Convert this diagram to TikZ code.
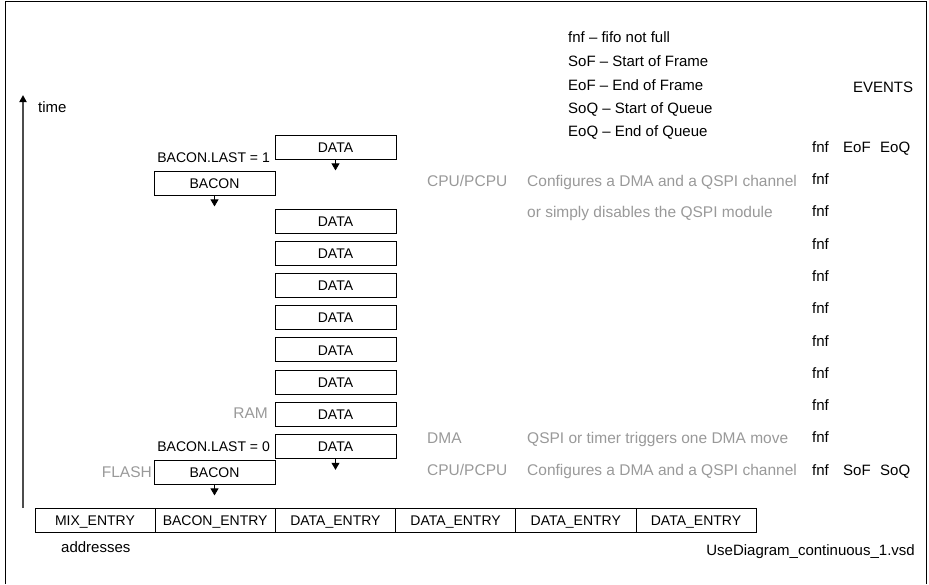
\documentclass[tikz,border=0pt]{standalone}
\usepackage{fontspec}
\setmainfont{Liberation Sans}
\usetikzlibrary{arrows.meta,positioning}

\begin{document}
\begin{tikzpicture}[x=1pt,y=-1pt,
  txt/.style={font=\fontsize{15}{17}\selectfont,inner sep=0pt,
    text height=10.5pt,text depth=0pt},
  small/.style={txt,font=\fontsize{14}{16}\selectfont},
  note/.style={txt,font=\fontsize{15.5}{17}\selectfont,text=black!40},
  box/.style={small,draw,line width=0.8pt,minimum width=121pt,
    minimum height=24pt},
  cell/.style={small,draw,line width=0.8pt,minimum width=120.2pt,
    minimum height=24pt},
  move/.style={line width=0.8pt,-{Triangle[length=7pt,width=8pt]}},
  timeax/.style={draw=black!70,line width=1.8pt,
    -{Triangle[length=7pt,width=7pt,color=black]}}
]
  \useasboundingbox (0,0) rectangle (929,584);
  \draw[line width=1pt] (5,584) -- (5,1) -- (926,1) -- (926,584);

  % time axis
  \coordinate (tbase) at (23,508);
  \coordinate (ttop) at (23,95);
  \draw[timeax] (tbase) -- (ttop);
  \node[txt,anchor=west] (time) at (38,107) {time};

  % legend
  \node[txt,anchor=west] (lfnf) at (568,37) {fnf – fifo not full};
  \node[txt,anchor=west] (lsof) at (568,61) {SoF – Start of Frame};
  \node[txt,anchor=west] (leof) at (568,85) {EoF – End of Frame};
  \node[txt,anchor=west] (lsoq) at (568,108) {SoQ – Start of Queue};
  \node[txt,anchor=west] (leoq) at (568,131) {EoQ – End of Queue};
  \node[txt] (events) at (883,87) {EVENTS};

  % queue
  \node[box] (datatop) at (335.5,147) {DATA};
  \node[box] (bacontop) at (214.5,183) {BACON};
  \foreach \i in {0,...,7}
    \node[box] (data\i) at (335.5,{221+32.2*\i}) {DATA};
  \node[box] (baconbot) at (214.5,472) {BACON};

  \coordinate[below=11pt of datatop] (datatoptip);
  \coordinate[below=11pt of bacontop] (bacontoptip);
  \coordinate[below=11pt of data7] (data7tip);
  \coordinate[below=11pt of baconbot] (baconbottip);
  \draw[move] (datatop) -- (datatoptip);
  \draw[move] (bacontop) -- (bacontoptip);
  \draw[move] (data7) -- (data7tip);
  \draw[move] (baconbot) -- (baconbottip);

  \node[small,anchor=east] (last1) at (270,157) {BACON.LAST = 1};
  \node[small,anchor=east] (last0) at (270,446) {BACON.LAST = 0};
  \node[note,anchor=east] (ram) at (268,413) {RAM};
  \node[note,anchor=east] (flash) at (152,472) {FLASH};

  % who does what
  \node[note,anchor=west] (cpu1) at (427,181) {CPU/PCPU};
  \node[note,anchor=west] (cfg1) at (527,181) {Configures a DMA and a QSPI channel};
  \node[note,anchor=west] (dis) at (527,212) {or simply disables the QSPI module};
  \node[note,anchor=west] (dma) at (427,438) {DMA};
  \node[note,anchor=west] (trig) at (527,438) {QSPI or timer triggers one DMA move};
  \node[note,anchor=west] (cpu0) at (427,470) {CPU/PCPU};
  \node[note,anchor=west] (cfg0) at (527,470) {Configures a DMA and a QSPI channel};

  % events
  \foreach \i in {0,...,10}
    \node[txt,anchor=west] (fnf\i) at (812,{147+32.3*\i}) {fnf};
  \node[txt,anchor=west] (eof) at (843,147) {EoF};
  \node[txt,anchor=west] (eoq) at (880,147) {EoQ};
  \node[txt,anchor=west] (sof) at (843,470) {SoF};
  \node[txt,anchor=west] (soq) at (880,470) {SoQ};

  % memory
  \foreach \lab [count=\k from 0] in {MIX\_ENTRY,BACON\_ENTRY,DATA\_ENTRY,
      DATA\_ENTRY,DATA\_ENTRY,DATA\_ENTRY}
    \node[cell] (mem\k) at ({95+120.2*\k},520) {\lab};
  \node[txt,anchor=west] (addr) at (61,547) {addresses};
  \node[txt,anchor=east] (file) at (915,550) {UseDiagram\_continuous\_1.vsd};
\end{tikzpicture}
\end{document}
